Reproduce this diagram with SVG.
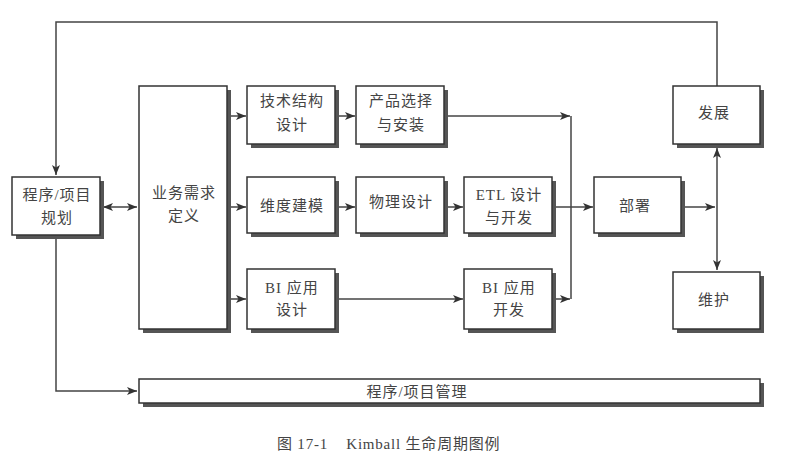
<svg xmlns="http://www.w3.org/2000/svg" width="792" height="462" viewBox="0 0 792 462">
<style>
.box{fill:#fff;stroke:#333;stroke-width:1.5}
.sh{fill:#555}
.t{font-family:"Liberation Serif","Noto Sans CJK SC",serif;font-size:15px;fill:#444;text-anchor:middle;letter-spacing:1px}
.cap{font-family:"Liberation Serif","Noto Sans CJK SC",serif;font-size:15px;fill:#444;letter-spacing:0.8px}
.ln{fill:none;stroke:#444;stroke-width:1.5}
</style>
<defs>
<marker id="ah" markerUnits="userSpaceOnUse" markerWidth="11" markerHeight="8" refX="10" refY="4" orient="auto-start-reverse" viewBox="0 0 11 8">
<path d="M0,0 L10,4 L0,8 L2.5,4 z" fill="#333"/>
</marker>
</defs>
<rect width="792" height="462" fill="#fff"/>
<g id="connectors">
<path class="ln" d="M717,86 V22 H56 V175" marker-end="url(#ah)"/>
<path class="ln" d="M103,207 H137" marker-start="url(#ah)" marker-end="url(#ah)"/>
<path class="ln" d="M228,116 H246" marker-end="url(#ah)"/>
<path class="ln" d="M228,207 H246" marker-end="url(#ah)"/>
<path class="ln" d="M228,299 H246" marker-end="url(#ah)"/>
<path class="ln" d="M339,116 H355" marker-end="url(#ah)"/>
<path class="ln" d="M339,207 H355" marker-end="url(#ah)"/>
<path class="ln" d="M448,207 H463" marker-end="url(#ah)"/>
<path class="ln" d="M448,116 H570" marker-end="url(#ah)"/>
<path class="ln" d="M571,116 V299"/>
<path class="ln" d="M339,299 H463" marker-end="url(#ah)"/>
<path class="ln" d="M556,299 H570" marker-end="url(#ah)"/>
<path class="ln" d="M556,207 H593" marker-end="url(#ah)"/>
<path class="ln" d="M685,207 H715" marker-end="url(#ah)"/>
<path class="ln" d="M717,148 V270" marker-start="url(#ah)" marker-end="url(#ah)"/>
<path class="ln" d="M56,239 V391 H137" marker-end="url(#ah)"/>
</g>
<g id="plan">
<rect class="sh" x="16" y="181" width="88" height="58"/>
<rect class="box" x="12" y="177" width="88" height="58"/>
<text class="t" x="57" y="200">程序/项目</text>
<text class="t" x="57" y="223">规划</text>
</g>
<g id="biz">
<rect class="sh" x="143" y="90" width="88" height="243"/>
<rect class="box" x="139" y="86" width="88" height="243"/>
<text class="t" x="184" y="198">业务需求</text>
<text class="t" x="184" y="221">定义</text>
</g>
<g id="tech">
<rect class="sh" x="251" y="90" width="88" height="58"/>
<rect class="box" x="247" y="86" width="88" height="58"/>
<text class="t" x="292" y="106">技术结构</text>
<text class="t" x="292" y="130">设计</text>
</g>
<g id="product">
<rect class="sh" x="360" y="90" width="88" height="58"/>
<rect class="box" x="356" y="86" width="88" height="58"/>
<text class="t" x="401" y="106">产品选择</text>
<text class="t" x="401" y="130">与安装</text>
</g>
<g id="dim">
<rect class="sh" x="251" y="181" width="88" height="56"/>
<rect class="box" x="247" y="177" width="88" height="56"/>
<text class="t" x="292" y="211">维度建模</text>
</g>
<g id="phys">
<rect class="sh" x="360" y="181" width="88" height="56"/>
<rect class="box" x="356" y="177" width="88" height="56"/>
<text class="t" x="401" y="207">物理设计</text>
</g>
<g id="etl">
<rect class="sh" x="468" y="181" width="88" height="56"/>
<rect class="box" x="464" y="177" width="88" height="56"/>
<text class="t" x="509" y="200">ETL 设计</text>
<text class="t" x="509" y="223">与开发</text>
</g>
<g id="deploy">
<rect class="sh" x="598" y="181" width="87" height="56"/>
<rect class="box" x="594" y="177" width="87" height="56"/>
<text class="t" x="635" y="211">部署</text>
</g>
<g id="growth">
<rect class="sh" x="677" y="90" width="87" height="58"/>
<rect class="box" x="673" y="86" width="87" height="58"/>
<text class="t" x="714" y="118">发展</text>
</g>
<g id="maint">
<rect class="sh" x="677" y="276" width="87" height="57"/>
<rect class="box" x="673" y="272" width="87" height="57"/>
<text class="t" x="714" y="305">维护</text>
</g>
<g id="biDesign">
<rect class="sh" x="251" y="273" width="88" height="60"/>
<rect class="box" x="247" y="269" width="88" height="60"/>
<text class="t" x="292" y="293">BI 应用</text>
<text class="t" x="292" y="315">设计</text>
</g>
<g id="biDev">
<rect class="sh" x="468" y="273" width="88" height="60"/>
<rect class="box" x="464" y="269" width="88" height="60"/>
<text class="t" x="509" y="293">BI 应用</text>
<text class="t" x="509" y="315">开发</text>
</g>
<g id="mgmt">
<rect class="sh" x="143" y="383" width="621" height="24"/>
<rect class="box" x="139" y="379" width="621" height="24"/>
<text class="t" x="417" y="397">程序/项目管理</text>
</g>
<text class="cap" x="277" y="449" xml:space="preserve">图 17-1    Kimball 生命周期图例</text>
</svg>
